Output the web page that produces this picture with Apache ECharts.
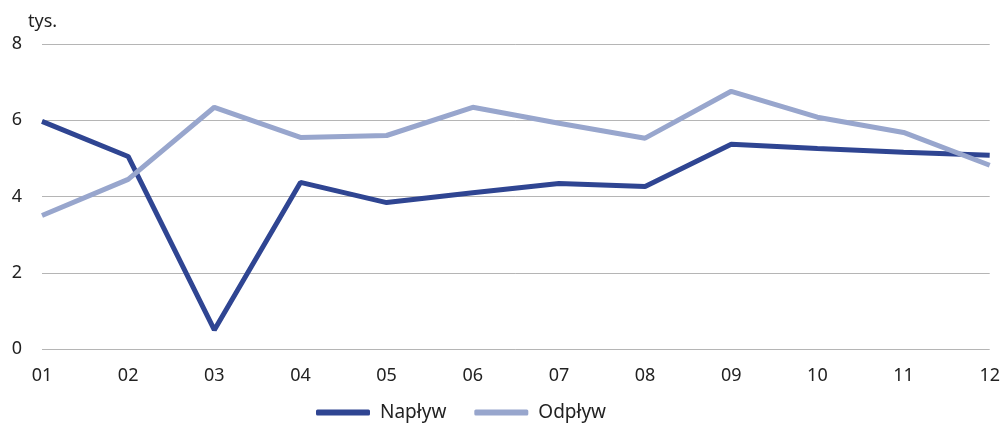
<!DOCTYPE html>
<html>
<head>
<meta charset="utf-8">
<script src="https://cdn.jsdelivr.net/npm/echarts@6/dist/echarts.min.js"></script>
<style>
  html, body { margin: 0; padding: 0; background: #fff; }
  #chart { width: 1003px; height: 423px; }
</style>
</head>
<body>
<div id="chart"></div>
<script>
// miesiące
const months = ['01', '02', '03', '04', '05', '06', '07', '08', '09', '10', '11', '12'];
// napływ (tys.)
const naplyw = [5.97, 5.05, 0.5, 4.37, 3.84, 4.1, 4.34, 4.26, 5.37, 5.26, 5.16, 5.08];
// odpływ (tys.)
const odplyw = [3.5, 4.45, 6.34, 5.55, 5.6, 6.34, 5.92, 5.53, 6.76, 6.08, 5.68, 4.82];

const chart = echarts.init(document.getElementById('chart'));

const font = 'Noto Sans';

chart.setOption({
    animation: false,
    textStyle: { fontFamily: font },
    grid: {
        left: 42,
        right: 8,
        top: 44,
        bottom: 74
    },
    legend: {
        top: 398,
        left: 311,
        itemWidth: 54,
        itemHeight: 6,
        itemGap: 28,
        icon: 'roundRect',
        textStyle: { fontSize: 19, color: '#222', fontFamily: font, padding: [0, 0, 0, 5] },
        data: ['Napływ', 'Odpływ']
    },
    xAxis: {
        type: 'category',
        data: months,
        boundaryGap: false,
        axisLine: { show: false },
        axisTick: { show: false },
        axisLabel: { fontSize: 18, color: '#222', margin: 18 }
    },
    yAxis: {
        type: 'value',
        min: 0,
        max: 8,
        interval: 2,
        name: 'tys.',
        nameLocation: 'end',
        nameGap: 13,
        nameTextStyle: { fontSize: 18, color: '#222', align: 'left', padding: [0, 0, 0, -14] },
        axisLine: { show: false },
        axisTick: { show: false },
        axisLabel: { fontSize: 18, color: '#222', margin: 20 },
        splitLine: { lineStyle: { color: '#b5b5b5', width: 1 } }
    },
    series: [
        {
            name: 'Napływ',
            type: 'line',
            data: naplyw,
            symbol: 'none',
            lineStyle: { width: 5, color: '#2f4592' },
            itemStyle: { color: '#2f4592' }
        },
        {
            name: 'Odpływ',
            type: 'line',
            data: odplyw,
            symbol: 'none',
            lineStyle: { width: 5, color: '#98a6cd' },
            itemStyle: { color: '#98a6cd' }
        }
    ]
});
</script>
</body>
</html>
